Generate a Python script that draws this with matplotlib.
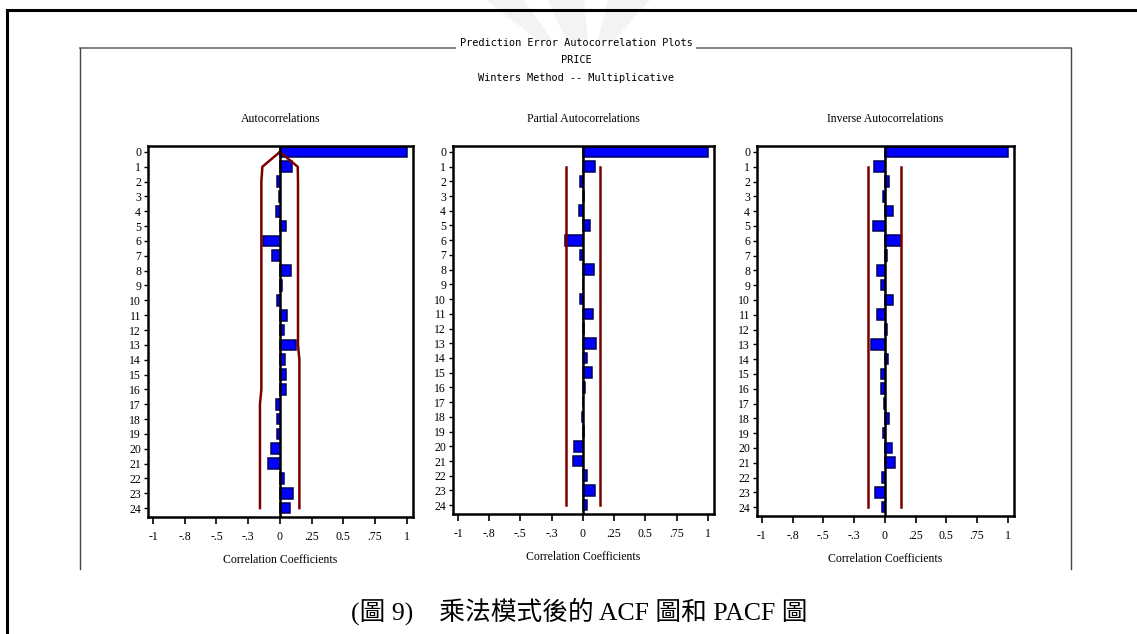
import matplotlib
matplotlib.use('Agg')
import matplotlib.pyplot as plt
from matplotlib.lines import Line2D
from matplotlib.patches import Polygon

W, H = 1137, 634  # canvas size in pixels

# lags shown in every panel
lags = list(range(25))

# prediction error autocorrelations
acf = [1.0, 0.096, -0.024, -0.005, -0.03, 0.048, -0.133, -0.064, 0.088, 0.02,
       -0.02, 0.06, 0.03, 0.128, 0.04, 0.048, 0.048, -0.03, -0.024, -0.024,
       -0.072, -0.09, 0.03, 0.104, 0.08]
acf_upper = [0, 0.141] + [0.143] * 12 + [0.154] * 11
acf_lower = [0, -0.138] + [-0.146] * 15 + [-0.157] * 8

# partial autocorrelations
pacf = [1.0, 0.098, -0.027, 0.01, -0.035, 0.056, -0.144, -0.027, 0.088, 0.003,
        -0.027, 0.08, 0.013, 0.106, 0.03, 0.072, 0.02, 0.002, -0.01, 0.012,
        -0.07, -0.077, 0.037, 0.098, 0.03]

# inverse autocorrelations
iacf = [1.0, -0.089, 0.032, -0.016, 0.065, -0.097, 0.127, 0.016, -0.062, -0.035,
        0.065, -0.062, 0.016, -0.114, 0.024, -0.03, -0.03, -0.005, 0.032, -0.016,
        0.057, 0.081, -0.022, -0.081, -0.022]

two_se = 0.135  # 2 standard errors for PACF / IACF

xtick_pos = [-1, -0.75, -0.5, -0.25, 0, 0.25, 0.5, 0.75, 1]
xtick_labels = ['-1', '-.8', '-.5', '-.3', '0', '.25', '0.5', '.75', '1']

panel_titles = ['Autocorrelations', 'Partial Autocorrelations', 'Inverse Autocorrelations']
main_title = 'Prediction Error Autocorrelation Plots'
sub_titles = ['PRICE', 'Winters Method -- Multiplicative']
caption = '(圖 9)    乘法模式後的 ACF 圖和 PACF 圖'

# pixel boxes of the three panels: left, right, top, bottom
boxes = [(148, 413, 146, 517), (453, 714, 146, 514), (757, 1014, 146, 516)]

BAR_FC = '#0000ff'
BAR_EC = '#00005a'
BAND = '#7a0000'
SERIF = 'Liberation Serif'


def px(x, y):
    '''pixel coords (top-left origin) -> figure fraction'''
    return x / W, 1 - y / H


fig = plt.figure(figsize=(W / 100, H / 100), dpi=100)
fig.patch.set_facecolor('white')

# faint watermark behind the header
for pts in ([(486, 0), (524, 0), (552, 40), (538, 40)],
            [(548, 0), (584, 0), (588, 40), (566, 40)],
            [(608, 0), (650, 0), (614, 40), (598, 40)]):
    fig.patches.append(Polygon([px(*p) for p in pts], closed=True,
                               transform=fig.transFigure, fc='#f3f3f3', ec='none', zorder=0))


def fline(xs, ys, **kw):
    x0, y0 = px(xs[0], ys[0])
    x1, y1 = px(xs[1], ys[1])
    fig.lines.append(Line2D([x0, x1], [y0, y1], transform=fig.transFigure, **kw))


# outer page frame
fline((7, 7), (10, H), color='black', lw=2.2)
fline((7, W), (10, 10), color='black', lw=2.2)

# inner frame of the procedure output
fline((80, 455), (48, 48), color='#777777', lw=1.3)
fline((697, 1071), (48, 48), color='#777777', lw=1.3)
fline((80, 80), (48, 569), color='#444444', lw=1.0)
fline((1071, 1071), (48, 569), color='#444444', lw=1.0)

fx, fy = px(576, 43)
fig.text(fx, fy, main_title, family='DejaVu Sans Mono', fontsize=7.4,
         ha='center', va='center')
for i, s in enumerate(sub_titles):
    fx, fy = px(576, 60 + 18 * i)
    fig.text(fx, fy, s, family='DejaVu Sans Mono', fontsize=7.4,
             ha='center', va='center')


def draw_panel(box, values, title):
    l, r, t, b = box
    x0, y1 = px(l, t)
    x1, y0 = px(r, b)
    ax = fig.add_axes([x0, y0, x1 - x0, y1 - y0])
    ax.barh(lags, values, height=0.72, color=BAR_FC, edgecolor=BAR_EC,
            linewidth=1.1, zorder=2)
    ax.axvline(0, color='black', lw=1.8, zorder=4)
    ax.set_xlim(-1.04, 1.05)
    ax.set_ylim(24.6, -0.4)
    ax.set_xticks(xtick_pos)
    ax.set_xticklabels(xtick_labels, family=SERIF, fontsize=8.5)
    ax.set_yticks(lags)
    ax.set_yticklabels([str(v) for v in lags], family=SERIF, fontsize=8.5)
    ax.tick_params(axis='x', length=5, width=1.2, pad=5)
    ax.tick_params(axis='y', length=3, width=1.0, pad=2)
    for s in ax.spines.values():
        s.set_linewidth(1.8)
    ax.set_xlabel('Correlation Coefficients', family=SERIF, fontsize=8.5, labelpad=8)
    ax.set_title(title, family=SERIF, fontsize=8.5, pad=17)
    return ax


ax1 = draw_panel(boxes[0], acf, panel_titles[0])
ax1.plot(acf_upper, lags, color=BAND, lw=1.8, zorder=3)
ax1.plot(acf_lower, lags, color=BAND, lw=1.8, zorder=3)

ax2 = draw_panel(boxes[1], pacf, panel_titles[1])
ax3 = draw_panel(boxes[2], iacf, panel_titles[2])
for ax in (ax2, ax3):
    ax.plot([two_se, two_se], [1, 24], color=BAND, lw=1.8, zorder=3)
    ax.plot([-two_se, -two_se], [1, 24], color=BAND, lw=1.8, zorder=3)

fx, fy = px(579, 611)
fig.text(fx, fy, caption, family=[SERIF, 'Noto Sans CJK TC'], fontsize=18.5,
         ha='center', va='center')

fig.savefig('out.png', dpi=100, facecolor='white')
